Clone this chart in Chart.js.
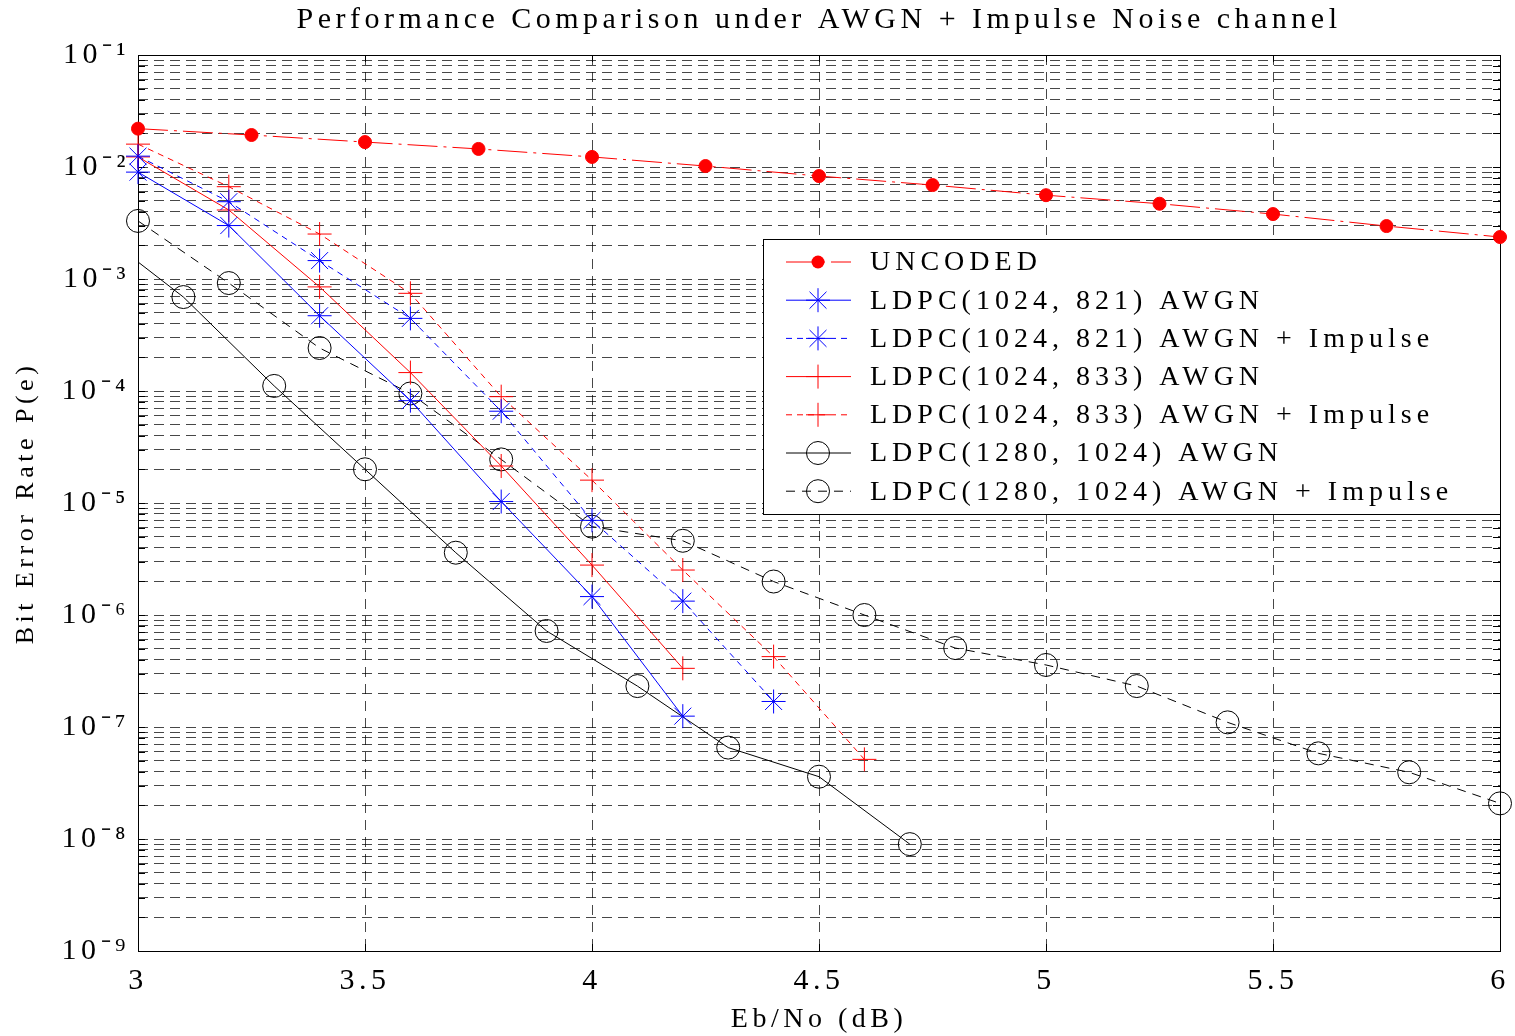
<!DOCTYPE html>
<html>
<head>
<meta charset="utf-8">
<title>Performance Comparison under AWGN + Impulse Noise channel</title>
<script src="https://cdn.jsdelivr.net/npm/chart.js@4.4.1/dist/chart.umd.min.js"></script>
<style>
  html, body { margin: 0; padding: 0; background: #fff; }
  canvas { display: block; }
</style>
</head>
<body>
<canvas id="ber" width="1515" height="1036" style="width:1515px;height:1036px"></canvas>
<script>
/* BER vs Eb/No — LDPC codes under AWGN and AWGN + impulse noise */

// ---- data ----
const ebnoUncoded = [3, 3.25, 3.5, 3.75, 4, 4.25, 4.5, 4.75, 5, 5.25, 5.5, 5.75, 6];
const berUncoded  = [2.2e-2, 1.93e-2, 1.67e-2, 1.45e-2, 1.23e-2, 1.02e-2, 8.3e-3, 6.9e-3, 5.6e-3, 4.7e-3, 3.8e-3, 2.97e-3, 2.37e-3];

const ebno821     = [3.0, 3.2, 3.4, 3.6, 3.8, 4.0, 4.2];
const ber821Awgn  = [9.0e-3, 3.0e-3, 4.7e-4, 8.2e-5, 1.03e-5, 1.46e-6, 1.25e-7];
const ebno821Imp  = [3.0, 3.2, 3.4, 3.6, 3.8, 4.0, 4.2, 4.4];
const ber821Imp   = [1.25e-2, 4.9e-3, 1.46e-3, 4.45e-4, 6.6e-5, 7.0e-6, 1.33e-6, 1.69e-7];

const ebno833     = [3.0, 3.2, 3.4, 3.6, 3.8, 4.0, 4.2];
const ber833Awgn  = [1.23e-2, 4.13e-3, 8.5e-4, 1.46e-4, 2.14e-5, 2.79e-6, 3.34e-7];
const ebno833Imp  = [3.0, 3.2, 3.4, 3.6, 3.8, 4.0, 4.2, 4.4, 4.6];
const ber833Imp   = [1.6e-2, 6.67e-3, 2.52e-3, 7.45e-4, 8.9e-5, 1.6e-5, 2.52e-6, 4.25e-7, 5.14e-8];

const ebno1280    = [3.0, 3.1, 3.3, 3.5, 3.7, 3.9, 4.1, 4.3, 4.5, 4.7];
const ber1280Awgn = [1.42e-3, 6.9e-4, 1.11e-4, 2.0e-5, 3.6e-6, 7.2e-7, 2.32e-7, 6.55e-8, 3.6e-8, 9.0e-9];
const ebno1280Imp = [3.0, 3.2, 3.4, 3.6, 3.8, 4.0, 4.2, 4.4, 4.6, 4.8, 5.0, 5.2, 5.4, 5.6, 5.8, 6.0];
const ber1280Imp  = [3.3e-3, 9.2e-4, 2.42e-4, 9.5e-5, 2.45e-5, 6.15e-6, 4.6e-6, 1.99e-6, 1.0e-6, 5.07e-7, 3.58e-7, 2.32e-7, 1.1e-7, 5.82e-8, 3.94e-8, 2.08e-8];

const seriesLabels = [
  'UNCODED',
  'LDPC(1024, 821) AWGN',
  'LDPC(1024, 821) AWGN + Impulse',
  'LDPC(1024, 833) AWGN',
  'LDPC(1024, 833) AWGN + Impulse',
  'LDPC(1280, 1024) AWGN',
  'LDPC(1280, 1024) AWGN + Impulse'
];

// axis ticks
const xMin = 3, xMax = 6, xStep = 0.5;
const yDecades = [-9, -8, -7, -6, -5, -4, -3, -2];
const yMantissas = [1, 2, 3, 4, 5, 6, 7, 8, 9];
const yTickValues = [];
yDecades.forEach(e => yMantissas.forEach(m => yTickValues.push(m * Math.pow(10, e))));
yTickValues.push(1e-1);

// ---- styling ----
const FONT = "'Liberation Serif', 'Times New Roman', serif";
const RED = '#ff0000', BLUE = '#0000ff', BLACK = '#000000';
const GRID = 'rgba(0,0,0,0.72)';
const SOLID = [], DASH = [6, 5], DASH_K = [9, 7], DASHDOT = [30, 6, 3, 6];

const series = [
  { x: ebnoUncoded, y: berUncoded,  color: RED,   dash: DASHDOT, marker: 'dot' },
  { x: ebno821,     y: ber821Awgn,  color: BLUE,  dash: SOLID,   marker: 'star' },
  { x: ebno821Imp,  y: ber821Imp,   color: BLUE,  dash: DASH,    marker: 'star' },
  { x: ebno833,     y: ber833Awgn,  color: RED,   dash: SOLID,   marker: 'cross' },
  { x: ebno833Imp,  y: ber833Imp,   color: RED,   dash: DASH,    marker: 'cross' },
  { x: ebno1280,    y: ber1280Awgn, color: BLACK, dash: SOLID,   marker: 'circle', skipFirst: true },
  { x: ebno1280Imp, y: ber1280Imp,  color: BLACK, dash: DASH_K,  marker: 'circle' }
];

const markerStyle = {
  dot:    { pointStyle: 'circle', r: 6.5,  fill: true },
  star:   { pointStyle: 'star',   r: 12,   fill: false },
  cross:  { pointStyle: 'cross',  r: 12,   fill: false },
  circle: { pointStyle: 'circle', r: 11.5, fill: false }
};

const datasets = series.map((s, i) => {
  const m = markerStyle[s.marker];
  return {
    label: seriesLabels[i],
    data: s.x.map((v, k) => ({ x: v, y: s.y[k] })),
    borderColor: s.color,
    borderWidth: 1,
    borderDash: s.dash,
    fill: false,
    tension: 0,
    clip: false,
    pointStyle: m.pointStyle,
    pointRadius: s.skipFirst ? (c => c.dataIndex === 0 ? 0 : m.r) : m.r,
    pointBorderColor: s.color,
    pointBackgroundColor: m.fill ? s.color : 'rgba(0,0,0,0)',
    pointBorderWidth: 1
  };
});

const SUP = { '-': '\u207B', '0': '\u2070', '1': '\u00B9', '2': '\u00B2', '3': '\u00B3',
  '4': '\u2074', '5': '\u2075', '6': '\u2076', '7': '\u2077', '8': '\u2078', '9': '\u2079' };
function decadeLabel(value) {
  const e = Math.round(Math.log10(value));
  if (Math.abs(value / Math.pow(10, e) - 1) > 1e-6) return '';
  return '10' + String(e).split('').map(c => SUP[c]).join('');
}

function drawMarker(ctx, kind, x, y, color) {
  const m = markerStyle[kind];
  ctx.save();
  ctx.setLineDash([]);
  ctx.lineWidth = 1;
  ctx.strokeStyle = color;
  ctx.fillStyle = color;
  ctx.beginPath();
  if (kind === 'dot') { ctx.arc(x, y, m.r, 0, Math.PI * 2); ctx.fill(); }
  else if (kind === 'circle') { ctx.arc(x, y, m.r, 0, Math.PI * 2); ctx.stroke(); }
  else {
    const r = m.r;
    ctx.moveTo(x - r, y); ctx.lineTo(x + r, y);
    ctx.moveTo(x, y - r); ctx.lineTo(x, y + r);
    if (kind === 'star') {
      const d = r * Math.SQRT1_2;
      ctx.moveTo(x - d, y - d); ctx.lineTo(x + d, y + d);
      ctx.moveTo(x - d, y + d); ctx.lineTo(x + d, y - d);
    }
    ctx.stroke();
  }
  ctx.restore();
}

// spaced-out lettering like the original export
const spacing = {
  id: 'spacing',
  beforeUpdate(c) { c.ctx.letterSpacing = '4.5px'; },
  beforeDraw(c) { c.ctx.letterSpacing = '4.5px'; }
};

// box, inward tick marks and the legend panel
const frame = {
  id: 'frame',
  beforeDatasetsDraw(c) {
    const { ctx, chartArea: a, scales } = c;
    ctx.save();
    ctx.setLineDash([]);
    ctx.strokeStyle = '#000';
    ctx.lineWidth = 1;
    ctx.beginPath();
    scales.y.ticks.forEach(t => {
      const py = Math.round(scales.y.getPixelForValue(t.value)) + 0.5;
      ctx.moveTo(a.left, py); ctx.lineTo(a.left + 7, py);
      ctx.moveTo(a.right, py); ctx.lineTo(a.right - 7, py);
    });
    scales.x.ticks.forEach(t => {
      const px = Math.round(scales.x.getPixelForValue(t.value)) + 0.5;
      ctx.moveTo(px, a.bottom); ctx.lineTo(px, a.bottom - 7);
      ctx.moveTo(px, a.top); ctx.lineTo(px, a.top + 7);
    });
    ctx.stroke();
    ctx.strokeRect(Math.round(a.left) + 0.5, Math.round(a.top) + 0.5,
      Math.round(a.right - a.left), Math.round(a.bottom - a.top));

    // legend
    const L = { x: 763, y: 239, w: a.right - 763, h: 275, row0: 262, rowH: 38.2 };
    ctx.fillStyle = '#fff';
    ctx.fillRect(L.x, L.y, L.w, L.h);
    ctx.strokeRect(L.x + 0.5, L.y + 0.5, L.w, L.h);
    ctx.font = '28px ' + FONT;
    ctx.letterSpacing = '5px';
    ctx.textBaseline = 'middle';
    ctx.textAlign = 'left';
    series.forEach((s, i) => {
      const y = L.row0 + i * L.rowH;
      ctx.save();
      ctx.strokeStyle = s.color;
      ctx.setLineDash(s.dash);
      ctx.beginPath();
      ctx.moveTo(786, y); ctx.lineTo(851, y);
      ctx.stroke();
      ctx.restore();
      drawMarker(ctx, s.marker, 818, y, s.color);
      ctx.fillStyle = '#000';
      ctx.fillText(seriesLabels[i], 870, y + 1);
    });
    ctx.restore();
  }
};

new Chart(document.getElementById('ber'), {
  type: 'line',
  data: { datasets },
  plugins: [spacing, frame],
  options: {
    responsive: false,
    animation: false,
    events: [],
    layout: { padding: { left: 0, right: 15, top: 0, bottom: 0 } },
    plugins: {
      legend: { display: false },
      tooltip: { enabled: false },
      title: {
        display: true,
        fullSize: false,
        text: 'Performance Comparison under AWGN + Impulse Noise channel',
        color: '#000',
        font: { family: FONT, size: 30, weight: 'normal' },
        padding: { top: 2, bottom: 17 }
      }
    },
    scales: {
      x: {
        type: 'linear',
        min: xMin, max: xMax,
        afterFit(s) { s.height = 85; s.paddingLeft = 0; s.paddingRight = 0; },
        ticks: { stepSize: xStep, autoSkip: false, maxRotation: 0, padding: 12, color: '#000',
                 font: { family: FONT, size: 30 }, callback: v => String(v) },
        grid: { color: GRID, lineWidth: 1, drawTicks: false },
        border: { display: false, dash: [10, 7] },
        title: { display: true, text: 'Eb/No (dB)', color: '#000',
                 font: { family: FONT, size: 28 }, padding: { top: 0, bottom: 0 } }
      },
      y: {
        type: 'logarithmic',
        min: 1e-9, max: 1e-1,
        afterFit(s) { s.width = 138; },
        afterBuildTicks(s) { s.ticks = yTickValues.map(v => ({ value: v })); },
        ticks: { autoSkip: false, padding: 8, color: '#000',
                 font: { family: FONT, size: 30 }, callback: decadeLabel },
        grid: { color: GRID, lineWidth: 1, drawTicks: false },
        border: { display: false, dash: [10, 6] },
        title: { display: true, text: 'Bit Error Rate P(e)', color: '#000',
                 font: { family: FONT, size: 26 }, padding: { top: 11, bottom: 0 } }
      }
    }
  }
});
</script>
</body>
</html>
